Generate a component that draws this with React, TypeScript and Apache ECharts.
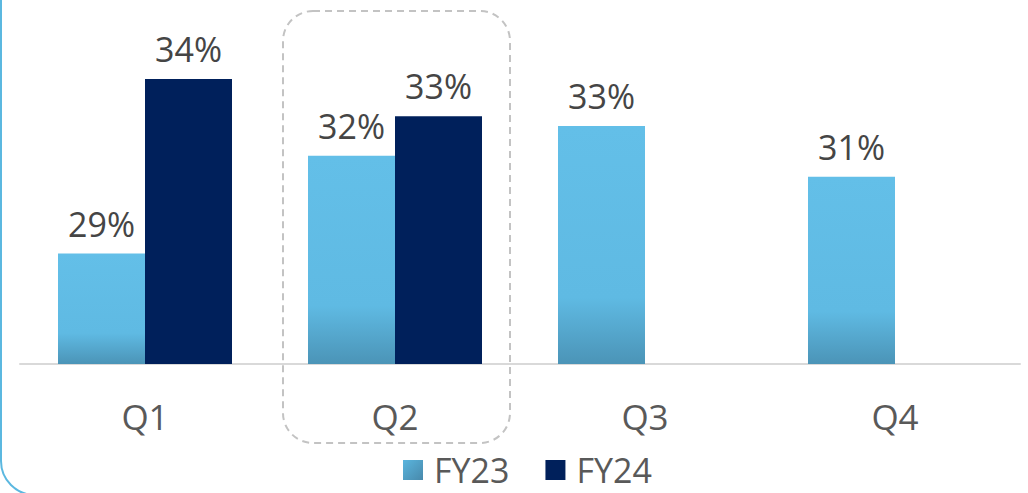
import React, { useEffect, useRef } from "react";
import * as echarts from "echarts";

const categories = ["Q1", "Q2", "Q3", "Q4"];
const fy23Values = [29.0, 31.8, 32.65, 31.2];
const fy24Values: (number | null)[] = [34.0, 32.93, null, null];
const seriesNames = ["FY23", "FY24"];

const FONT = "'Open Sans', 'Noto Sans', sans-serif";

export default function App() {
  const ref = useRef<HTMLDivElement>(null);
  useEffect(() => {
    if (!ref.current) return;
    const chart = echarts.init(ref.current, undefined, { renderer: "svg" });
    const fy23Color = new echarts.graphic.LinearGradient(0, 0, 0, 1, [
      { offset: 0, color: "#63bfe8" },
      { offset: 0.72, color: "#5fbae3" },
      { offset: 1, color: "#4b94b7" },
    ]);
    const legendFy23 = new echarts.graphic.LinearGradient(0, 0, 1, 1, [
      { offset: 0, color: "#5ab5de" },
      { offset: 1, color: "#4889ab" },
    ]);
    chart.setOption({
      animation: false,
      grid: { left: 20, right: 8, top: 9, bottom: 129 },
      legend: {
        bottom: 1,
        left: 398,
        itemWidth: 20,
        itemHeight: 20,
        itemGap: 36,
        icon: "rect",
        textStyle: { fontFamily: FONT, fontSize: 34, color: "#595959", padding: [0, 0, 0, 6] },
        data: [
          { name: seriesNames[0], itemStyle: { color: legendFy23 } },
          { name: seriesNames[1] },
        ],
      },
      xAxis: {
        type: "category",
        data: categories,
        axisLine: { show: true, lineStyle: { color: "#d9d9d9", width: 2 } },
        axisTick: { show: false },
        axisLabel: { fontFamily: FONT, fontSize: 35, color: "#595959", margin: 35 },
      },
      yAxis: {
        type: "value",
        min: 25.84,
        max: 36,
        show: false,
        splitLine: { show: false },
      },
      series: [
        {
          name: seriesNames[0],
          type: "bar",
          data: fy23Values,
          barWidth: 87,
          barGap: "0%",
          itemStyle: { color: fy23Color },
          label: {
            show: true,
            position: "top",
            distance: 13,
            fontFamily: FONT,
            fontSize: 34,
            color: "#454545",
            formatter: (p: any) => `${Math.round(p.value)}%`,
          },
        },
        {
          name: seriesNames[1],
          type: "bar",
          data: fy24Values,
          barWidth: 87,
          barGap: "0%",
          itemStyle: { color: "#00205b" },
          label: {
            show: true,
            position: "top",
            distance: 13,
            fontFamily: FONT,
            fontSize: 34,
            color: "#454545",
            formatter: (p: any) => `${Math.round(p.value)}%`,
          },
        },
      ],
      graphic: [
        {
          type: "rect",
          shape: { x: 1, y: -40, width: 1100, height: 535, r: 34 },
          style: { fill: "none", stroke: "#5bb8e0", lineWidth: 2 },
          silent: true,
        },
        {
          type: "rect",
          shape: { x: 283, y: 11, width: 227, height: 432, r: 30 },
          style: { fill: "none", stroke: "#c3c3c3", lineWidth: 2, lineDash: [7, 5] },
          silent: true,
          z: 10,
        },
      ],
    });
    return () => chart.dispose();
  }, []);
  return <div ref={ref} style={{ width: 1028, height: 493, position: "absolute", left: 0, top: 0 }} />;
}
